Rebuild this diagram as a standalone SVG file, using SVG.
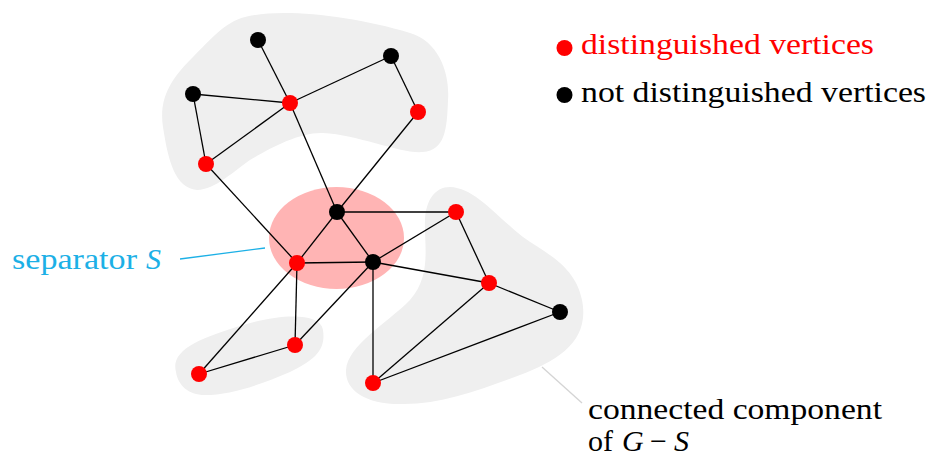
<svg xmlns="http://www.w3.org/2000/svg" width="932" height="458" viewBox="0 0 932 458">
<style>
.blob{fill:#efefef;stroke:none}
.e{stroke:#000;stroke-width:1.3;fill:none}
.r{fill:#ff0000}
.b{fill:#000}
.t{font-family:"Liberation Serif","Times New Roman",serif;font-size:30px}
.it{font-style:italic}
</style>
<rect width="932" height="458" fill="#fff"/>
<g id="components">
<path id="comp-top" class="blob" d="M 197,190 C 175,188 168,160 163,127 C 158,95 175,75 193,57 C 210,40 225,22 245,17 C 280,8 350,15 410,33 C 440,42 450,75 448,100 C 447,130 445,150 423,152 C 400,154 360,135 323,133 C 300,132 270,148 250,160 C 235,170 215,190 197,190 Z"/>
<path id="comp-right" class="blob" d="M 450,187 C 475,188 495,215 523,237 C 545,253 575,265 582,300 C 590,340 560,360 520,375 C 480,390 440,405 400,404 C 365,404 345,390 346,370 C 348,345 385,325 410,300 C 432,275 424,245 425,220 C 426,200 435,187 450,187 Z"/>
<path id="comp-bottom" class="blob" d="M 176,372 C 170,350 200,338 243,325 C 280,314 320,312 323,330 C 326,350 315,360 290,372 C 260,385 230,395 205,395 C 188,395 178,385 176,372 Z"/>
</g>
<ellipse id="separator" cx="336.5" cy="238" rx="67.5" ry="51" fill="#ffb4b4"/>
<g id="connectors">
<line class="e" x1="258" y1="40" x2="290" y2="103"/>
<line class="e" x1="391" y1="56" x2="290" y2="103"/>
<line class="e" x1="193" y1="94" x2="290" y2="103"/>
<line class="e" x1="193" y1="94" x2="206" y2="164"/>
<line class="e" x1="206" y1="164" x2="290" y2="103"/>
<line class="e" x1="391" y1="56" x2="418" y2="112"/>
<line class="e" x1="418" y1="112" x2="337" y2="212"/>
<line class="e" x1="290" y1="103" x2="337" y2="212"/>
<line class="e" x1="206" y1="164" x2="297" y2="263"/>
<line class="e" x1="337" y1="212" x2="297" y2="263"/>
<line class="e" x1="337" y1="212" x2="373" y2="262"/>
<line class="e" x1="297" y1="263" x2="373" y2="262"/>
<line class="e" x1="337" y1="212" x2="456" y2="212"/>
<line class="e" x1="373" y1="262" x2="456" y2="212"/>
<line class="e" x1="456" y1="212" x2="489" y2="283"/>
<line class="e" x1="373" y1="262" x2="489" y2="283"/>
<line class="e" x1="489" y1="283" x2="560" y2="312"/>
<line class="e" x1="373" y1="262" x2="373" y2="383"/>
<line class="e" x1="373" y1="383" x2="489" y2="283"/>
<line class="e" x1="373" y1="383" x2="560" y2="312"/>
<line class="e" x1="297" y1="263" x2="295" y2="345"/>
<line class="e" x1="297" y1="263" x2="199" y2="374"/>
<line class="e" x1="199" y1="374" x2="295" y2="345"/>
<line class="e" x1="373" y1="262" x2="295" y2="345"/>
<line x1="180" y1="259" x2="265" y2="248" stroke="#1cb0e6" stroke-width="1.3"/>
<line x1="542" y1="367" x2="582" y2="403" stroke="#d4d4d4" stroke-width="1.3"/>
</g>
<g id="nodes">
<circle id="n1" class="b" cx="258" cy="40" r="8"/>
<circle id="n2" class="b" cx="391" cy="56" r="8"/>
<circle id="n3" class="b" cx="193" cy="94" r="8"/>
<circle id="n4" class="r" cx="290" cy="103" r="8"/>
<circle id="n5" class="r" cx="418" cy="112" r="8"/>
<circle id="n6" class="r" cx="206" cy="164" r="8"/>
<circle id="n7" class="b" cx="337" cy="212" r="8"/>
<circle id="n8" class="r" cx="297" cy="263" r="8"/>
<circle id="n9" class="b" cx="373" cy="262" r="8"/>
<circle id="n10" class="r" cx="456" cy="212" r="8"/>
<circle id="n11" class="r" cx="489" cy="283" r="8"/>
<circle id="n12" class="b" cx="560" cy="312" r="8"/>
<circle id="n13" class="r" cx="295" cy="345" r="8"/>
<circle id="n14" class="r" cx="199" cy="374" r="8"/>
<circle id="n15" class="r" cx="373" cy="383" r="8"/>
</g>
<g id="legend">
<circle class="r" cx="564.5" cy="48" r="8"/>
<text class="t" x="581" y="54" fill="#ff0000" textLength="293" lengthAdjust="spacingAndGlyphs">distinguished vertices</text>
<circle class="b" cx="564.5" cy="95" r="8"/>
<text class="t" x="581" y="102" fill="#000" textLength="345" lengthAdjust="spacingAndGlyphs">not distinguished vertices</text>
</g>
<g id="labels">
<text class="t" x="12" y="269" fill="#1cb0e6"><tspan textLength="125" lengthAdjust="spacingAndGlyphs">separator</tspan><tspan class="it" x="146">S</tspan></text>
<text class="t" x="588" y="419" fill="#000" textLength="294" lengthAdjust="spacingAndGlyphs">connected component</text>
<text class="t" x="588" y="451" fill="#000"><tspan>of</tspan><tspan class="it" x="622">G</tspan><tspan x="650">−</tspan><tspan class="it" x="674">S</tspan></text>
</g>
</svg>
